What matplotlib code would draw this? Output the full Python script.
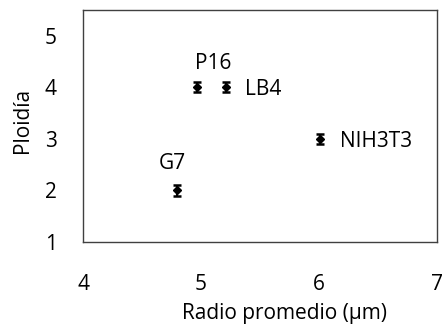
import matplotlib
matplotlib.use("Agg")
import matplotlib.pyplot as plt

# data
labels = ["G7", "P16", "LB4", "NIH3T3"]
radio = [4.80, 4.97, 5.21, 6.01]
ploidia = [2, 4, 4, 3]
err = [0.1, 0.1, 0.1, 0.1]

plt.rcParams["font.family"] = ["Open Sans", "DejaVu Sans"]
FS = 15

fig = plt.figure(figsize=(4.44, 3.28), dpi=100)
ax = fig.add_axes([83 / 444, 1 - 242 / 328, 354 / 444, 232 / 328])

ax.errorbar(radio, ploidia, yerr=err, fmt="D", color="black", ms=4,
            capsize=3, capthick=1.8, elinewidth=1.5)

# label placement (offsets in points)
offsets = {"G7": (-4, 21, "center"), "P16": (11.5, 19, "center"),
           "LB4": (14, 0, "left"), "NIH3T3": (14, 0, "left")}
for lbl, x, y in zip(labels, radio, ploidia):
    dx, dy, ha = offsets[lbl]
    ax.annotate(lbl, (x, y), xytext=(dx, dy), textcoords="offset points",
                ha=ha, va="center_baseline", fontsize=FS)

ax.set_xlim(4, 7)
ax.set_ylim(1, 5.5)
ax.set_xticks([4, 5, 6, 7])
ax.set_yticks([1, 2, 3, 4, 5])
ax.tick_params(length=0, labelsize=FS)
ax.tick_params(axis="x", pad=23)
ax.tick_params(axis="y", pad=19)
for s in ax.spines.values():
    s.set_color("#404040")
    s.set_linewidth(1)

# axis titles are centred on the chart area (Excel style), not on the plot box
ax.set_xlabel("Radio promedio (µm)", fontsize=FS)
ax.set_ylabel("Ploidía", fontsize=FS)
ax.xaxis.set_label_coords(0.568, -0.262)
ax.yaxis.set_label_coords(-0.14, 0.522)

fig.savefig("out.png", dpi=100)
